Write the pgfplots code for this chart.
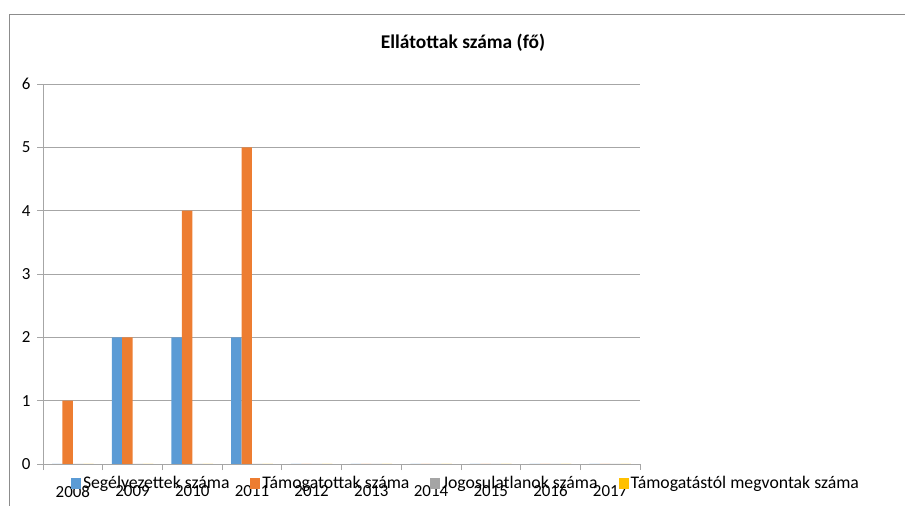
\documentclass[border=0pt]{standalone}
\usepackage{pgfplots}
\pgfplotsset{compat=1.18}
\usepackage{fontspec}
\setmainfont{Carlito}
\definecolor{sblue}{HTML}{5B9BD5}
\definecolor{sorange}{HTML}{ED7D31}
\definecolor{sgray}{HTML}{A5A5A5}
\definecolor{syellow}{HTML}{FFC000}
\definecolor{gridc}{HTML}{A6A6A6}
\definecolor{framec}{HTML}{8C8C8C}
\begin{document}
\begin{tikzpicture}
\path[use as bounding box] (0,0) rectangle (905bp,506bp);
\draw[framec, line width=0.9bp] (9.5bp,491.5bp) -- (905bp,491.5bp);
\draw[framec, line width=0.9bp] (9.5bp,491.5bp) -- (9.5bp,0bp);
\begin{axis}[
  at={(43bp,42bp)}, anchor=south west,
  scale only axis, width=597bp, height=380bp,
  ybar=0pt, bar width=10.4bp,
  xmin=-0.5, xmax=9.5, ymin=0, ymax=6,
  axis x line*=bottom, axis y line*=left,
  axis line style={-, draw=gridc, line width=0.8bp},
  ytick={0,...,6},
  ymajorgrids, grid style={draw=gridc, line width=0.8bp},
  xtick={-0.5,0.5,...,9.5}, xticklabels={},
  tick align=outside, major tick length=6bp,
  tick style={draw=gridc, line width=0.8bp},
  extra x ticks={0,...,9},
  extra x tick labels={2008,2009,2010,2011,2012,2013,2014,2015,2016,2017},
  extra x tick style={major tick length=0pt, tick style={draw=none}},
  /pgf/number format/assume math mode=true,
  ticklabel style={font=\fontsize{17}{20}\selectfont, text=black},
  xticklabel style={yshift=-18bp},
  yticklabel style={xshift=-3bp},
  title={Ellátottak száma (fő)},
  title style={at={(axis description cs:0.7035,1.092)}, anchor=center, font=\fontsize{19.5}{23}\selectfont\bfseries},
  legend columns=4,
  legend style={at={(axis description cs:0.7085,-0.05)}, anchor=center, draw=none, fill=none,
    font=\fontsize{17.8}{21}\selectfont, /tikz/every even column/.append style={column sep=19bp},
    nodes={inner sep=2bp}},
  legend image code/.code={\fill[#1] (0bp,-5.5bp) rectangle (10bp,5.5bp);},
]
\addplot[fill=sblue, draw=none] coordinates {(0,0) (1,2) (2,2) (3,2) (4,0) (5,0) (6,0) (7,0) (8,0) (9,0)};
\addplot[fill=sorange, draw=none] coordinates {(0,1) (1,2) (2,4) (3,5) (4,0) (5,0) (6,0) (7,0) (8,0) (9,0)};
\addplot[fill=sgray, draw=none] coordinates {(0,0) (1,0) (2,0) (3,0) (4,0) (5,0) (6,0) (7,0) (8,0) (9,0)};
\addplot[fill=syellow, draw=none] coordinates {(0,0) (1,0) (2,0) (3,0) (4,0) (5,0) (6,0) (7,0) (8,0) (9,0)};
\legend{Segélyezettek száma, Támogatottak száma, Jogosulatlanok száma, Támogatástól megvontak száma}
\end{axis}
\end{tikzpicture}
\end{document}
